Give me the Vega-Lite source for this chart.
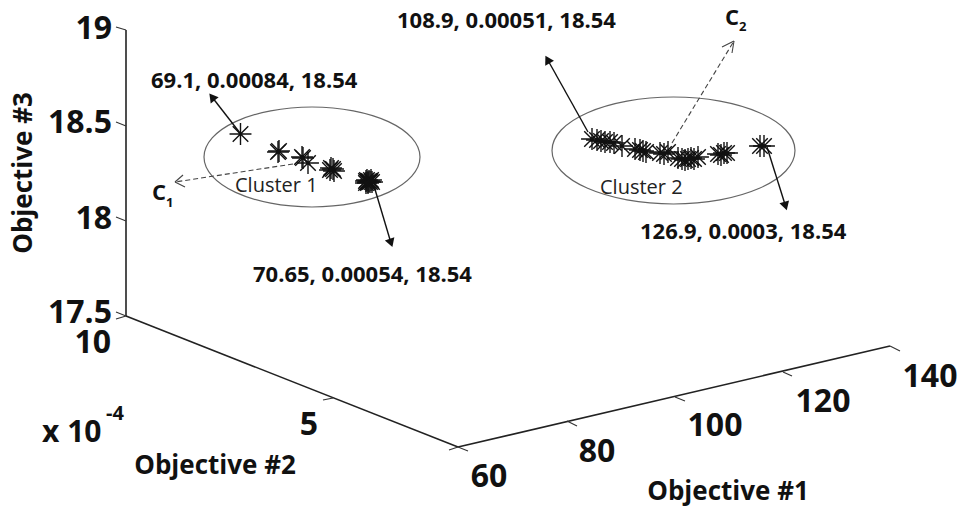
{"$schema":"https://vega.github.io/schema/vega-lite/v6.json","width":961,"height":509,"autosize":{"type":"fit","contains":"padding"},"padding":0,"background":"white","config":{"view":{"stroke":null}},
"datasets":{
"frame":[{"x":126,"y":30,"x2":126,"y2":316},{"x":126,"y":316,"x2":458,"y2":447},{"x":458,"y":447,"x2":890,"y2":346}],
"ticks":[{"x":116,"y":27,"x2":126,"y2":30},{"x":116,"y":122,"x2":126,"y2":126},{"x":116,"y":217,"x2":126,"y2":221},{"x":116,"y":312,"x2":126,"y2":316},{"x":116,"y":319,"x2":126,"y2":316},{"x":323,"y":400,"x2":333,"y2":398},{"x":449,"y":450,"x2":458,"y2":447},{"x":458,"y":447,"x2":468,"y2":451},{"x":567,"y":421,"x2":577,"y2":426},{"x":675,"y":397,"x2":685,"y2":401},{"x":783,"y":372,"x2":792,"y2":376},{"x":890,"y":346,"x2":900,"y2":351}],
"ellipses":[{"c":1,"i":0,"x":420,"y":157},{"c":1,"i":1,"x":411.8,"y":176.1},{"c":1,"i":2,"x":388.4,"y":192.4},{"c":1,"i":3,"x":353.3,"y":203.2},{"c":1,"i":4,"x":312,"y":207},{"c":1,"i":5,"x":270.7,"y":203.2},{"c":1,"i":6,"x":235.6,"y":192.4},{"c":1,"i":7,"x":212.2,"y":176.1},{"c":1,"i":8,"x":204,"y":157},{"c":1,"i":9,"x":212.2,"y":137.9},{"c":1,"i":10,"x":235.6,"y":121.6},{"c":1,"i":11,"x":270.7,"y":110.8},{"c":1,"i":12,"x":312,"y":107},{"c":1,"i":13,"x":353.3,"y":110.8},{"c":1,"i":14,"x":388.4,"y":121.6},{"c":1,"i":15,"x":411.8,"y":137.9},
{"c":2,"i":0,"x":795,"y":150.5},{"c":2,"i":1,"x":785.8,"y":171},{"c":2,"i":2,"x":759.4,"y":188.3},{"c":2,"i":3,"x":720,"y":199.9},{"c":2,"i":4,"x":673.5,"y":204},{"c":2,"i":5,"x":627,"y":199.9},{"c":2,"i":6,"x":587.6,"y":188.3},{"c":2,"i":7,"x":561.2,"y":171},{"c":2,"i":8,"x":552,"y":150.5},{"c":2,"i":9,"x":561.2,"y":130},{"c":2,"i":10,"x":587.6,"y":112.7},{"c":2,"i":11,"x":627,"y":101.1},{"c":2,"i":12,"x":673.5,"y":97},{"c":2,"i":13,"x":720,"y":101.1},{"c":2,"i":14,"x":759.4,"y":112.7},{"c":2,"i":15,"x":785.8,"y":130}],
"stars":[{"x":240.5,"y":134},{"x":278,"y":152},{"x":279,"y":151},{"x":302,"y":157},{"x":303,"y":158},{"x":308,"y":163},{"x":331,"y":168},{"x":333,"y":169},{"x":334,"y":171},{"x":330,"y":170},{"x":366,"y":181},{"x":367,"y":180},{"x":368,"y":182},{"x":369,"y":181},{"x":370,"y":182},{"x":371,"y":180},{"x":368,"y":183},{"x":372,"y":182},{"x":366,"y":183},
{"x":592,"y":139},{"x":597,"y":140},{"x":601,"y":141},{"x":605,"y":142},{"x":610,"y":142},{"x":614,"y":143},{"x":622,"y":146},{"x":635,"y":149},{"x":640,"y":150},{"x":643,"y":151},{"x":646,"y":152},{"x":660,"y":153},{"x":664,"y":154},{"x":668,"y":152},{"x":678,"y":158},{"x":682,"y":159},{"x":685,"y":160},{"x":688,"y":159},{"x":691,"y":158},{"x":694,"y":159},{"x":698,"y":157},{"x":718,"y":154},{"x":721,"y":155},{"x":724,"y":153},{"x":727,"y":153},{"x":760,"y":146},{"x":764,"y":146}],
"arrows":[{"x":240,"y":133,"x2":212,"y2":97},{"x":374,"y":186,"x2":391,"y2":243},{"x":588,"y":132,"x2":547.5,"y2":59.5},{"x":767,"y":147,"x2":785.5,"y2":206}],
"heads":[{"x":212,"y":97,"heading":322},{"x":391,"y":243,"heading":161},{"x":547.5,"y":59.5,"heading":331},{"x":785.5,"y":206,"heading":163}],
"dashes":[{"x":293,"y":164,"x2":175,"y2":182},{"x":672,"y":143,"x2":734,"y2":41}],
"openHeads":[{"x":183,"y":175,"x2":175,"y2":182},{"x":185,"y":187,"x2":175,"y2":182},{"x":722,"y":47,"x2":734,"y2":41},{"x":732,"y":53,"x2":734,"y2":41}],
"tickRight":[{"x":112,"y":29,"t":"19"},{"x":112,"y":123,"t":"18.5"},{"x":112,"y":219,"t":"18"},{"x":112,"y":313,"t":"17.5"},{"x":111,"y":343,"t":"10"}],
"tickCenter":[{"x":309,"y":425,"t":"5"},{"x":489,"y":477,"t":"60"},{"x":597,"y":452,"t":"80"},{"x":715,"y":426,"t":"100"},{"x":823,"y":402,"t":"120"},{"x":930,"y":377,"t":"140"}],
"titles":[{"x":215,"y":466,"t":"Objective #2"},{"x":728,"y":492,"t":"Objective #1"}],
"notes":[{"x":151,"y":81,"t":"69.1, 0.00084, 18.54"},{"x":253,"y":275,"t":"70.65, 0.00054, 18.54"},{"x":397,"y":21,"t":"108.9, 0.00051, 18.54"},{"x":640,"y":232,"t":"126.9, 0.0003, 18.54"}],
"clusters":[{"x":235,"y":186,"t":"Cluster 1"},{"x":600,"y":188,"t":"Cluster 2"}],
"centroids":[{"x":152,"y":193,"t":"C"},{"x":725,"y":18,"t":"C"}],
"subs":[{"x":166,"y":203,"t":"1"},{"x":739,"y":27,"t":"2"}]
},
"encoding":{"x":{"field":"x","type":"quantitative","scale":{"domain":[0,961],"nice":false,"zero":false},"axis":null},"y":{"field":"y","type":"quantitative","scale":{"domain":[509,0],"nice":false,"zero":false},"axis":null}},
"layer":[
{"data":{"name":"frame"},"mark":{"type":"rule","color":"#222","strokeWidth":1.6},"encoding":{"x2":{"field":"x2"},"y2":{"field":"y2"}}},
{"data":{"name":"ticks"},"mark":{"type":"rule","color":"#333","strokeWidth":1.1},"encoding":{"x2":{"field":"x2"},"y2":{"field":"y2"}}},
{"data":{"name":"ellipses"},"mark":{"type":"line","interpolate":"cardinal-closed","color":"#666","strokeWidth":1.2},"encoding":{"detail":{"field":"c"},"order":{"field":"i"}}},
{"data":{"name":"stars"},"mark":{"type":"point","shape":"M0,-1L0,1M-1,0L1,0M-0.71,-0.71L0.71,0.71M-0.71,0.71L0.71,-0.71","filled":false,"color":"#111","strokeWidth":1.4,"size":480,"opacity":1}},
{"data":{"name":"arrows"},"mark":{"type":"rule","color":"#111","strokeWidth":1.4},"encoding":{"x2":{"field":"x2"},"y2":{"field":"y2"}}},
{"data":{"name":"heads"},"mark":{"type":"point","shape":"triangle-up","filled":true,"color":"#111","size":100,"opacity":1},"encoding":{"angle":{"field":"heading","type":"quantitative","scale":null}}},
{"data":{"name":"dashes"},"mark":{"type":"rule","color":"#444","strokeWidth":1.1,"strokeDash":[5,3]},"encoding":{"x2":{"field":"x2"},"y2":{"field":"y2"}}},
{"data":{"name":"openHeads"},"mark":{"type":"rule","color":"#444","strokeWidth":1.1},"encoding":{"x2":{"field":"x2"},"y2":{"field":"y2"}}},
{"data":{"name":"tickRight"},"mark":{"type":"text","font":"Open Sans","fontWeight":"bold","fontSize":32,"align":"right","baseline":"middle","color":"#111"},"encoding":{"text":{"field":"t"}}},
{"data":{"name":"tickCenter"},"mark":{"type":"text","font":"Open Sans","fontWeight":"bold","fontSize":32,"align":"center","baseline":"middle","color":"#111"},"encoding":{"text":{"field":"t"}}},
{"data":{"values":[{"x":42,"y":433,"t":"x 10"}]},"mark":{"type":"text","font":"Open Sans","fontWeight":"bold","fontSize":30,"align":"left","baseline":"middle","color":"#111"},"encoding":{"text":{"field":"t"}}},
{"data":{"values":[{"x":106,"y":414,"t":"-4"}]},"mark":{"type":"text","font":"Open Sans","fontWeight":"bold","fontSize":20,"align":"left","baseline":"middle","color":"#111"},"encoding":{"text":{"field":"t"}}},
{"data":{"name":"titles"},"mark":{"type":"text","font":"Open Sans","fontWeight":"bold","fontSize":26,"align":"center","baseline":"middle","color":"#111"},"encoding":{"text":{"field":"t"}}},
{"data":{"values":[{"x":24,"y":173,"t":"Objective #3"}]},"mark":{"type":"text","font":"Open Sans","fontWeight":"bold","fontSize":26,"align":"center","baseline":"middle","angle":270,"color":"#111"},"encoding":{"text":{"field":"t"}}},
{"data":{"name":"notes"},"mark":{"type":"text","font":"Open Sans","fontWeight":"bold","fontSize":22,"align":"left","baseline":"middle","color":"#111"},"encoding":{"text":{"field":"t"}}},
{"data":{"name":"clusters"},"mark":{"type":"text","font":"Open Sans","fontSize":20,"align":"left","baseline":"middle","color":"#222"},"encoding":{"text":{"field":"t"}}},
{"data":{"name":"centroids"},"mark":{"type":"text","font":"Open Sans","fontWeight":"bold","fontSize":22,"align":"left","baseline":"middle","color":"#111"},"encoding":{"text":{"field":"t"}}},
{"data":{"name":"subs"},"mark":{"type":"text","font":"Open Sans","fontWeight":"bold","fontSize":13,"align":"left","baseline":"middle","color":"#111"},"encoding":{"text":{"field":"t"}}}
]}
